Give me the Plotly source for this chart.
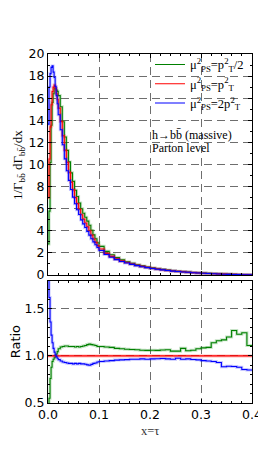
import numpy as np
import plotly.graph_objects as go

# ---- data ----
bin_edges = np.concatenate([
    np.linspace(0.0, 0.02, 11)[:-1],
    np.linspace(0.02, 0.1, 21)[:-1],
    np.linspace(0.1, 0.4, 31),
])

# reference scale mu^2 = pT^2 (red)
red_vals = [7.0, 10.5, 13.4, 15.4, 16.6, 17.0, 17.2, 16.9, 16.4, 15.9,
            15.1, 13.9, 12.6, 11.3, 10.2, 9.3, 8.4, 7.7, 7.0, 6.45,
            5.95, 5.45, 5.05, 4.7, 4.35, 4.0, 3.6, 3.25, 2.95, 2.65,
            2.35, 1.95, 1.68, 1.45, 1.27, 1.12, 0.99, 0.87, 0.77, 0.68,
            0.60, 0.53, 0.47, 0.41, 0.36, 0.32, 0.28, 0.245, 0.21, 0.18,
            0.155, 0.13, 0.11, 0.09, 0.073, 0.058, 0.045, 0.034, 0.024, 0.015]

# ratio mu^2 = pT^2/2 over reference (green)
green_ratio = [0.40, 0.55, 0.76, 0.88, 0.94, 0.965, 0.98, 1.0, 1.02, 1.045,
               1.075, 1.095, 1.10, 1.105, 1.105, 1.10, 1.10, 1.10, 1.095, 1.10,
               1.095, 1.10, 1.105, 1.11, 1.12, 1.125, 1.12, 1.115, 1.11, 1.10,
               1.10, 1.095, 1.09, 1.08, 1.075, 1.07, 1.068, 1.065, 1.06, 1.058,
               1.06, 1.058, 1.062, 1.065, 1.05, 1.05, 1.08, 1.055, 1.06, 1.075,
               1.085, 1.09, 1.14, 1.16, 1.17, 1.20, 1.27, 1.23, 1.245, 1.11]

# ratio mu^2 = 2 pT^2 over reference (blue)
blue_ratio = [1.95, 1.62, 1.36, 1.22, 1.14, 1.08, 1.04, 1.01, 0.99, 0.975,
              0.96, 0.945, 0.935, 0.93, 0.925, 0.92, 0.92, 0.915, 0.92, 0.915,
              0.92, 0.915, 0.915, 0.912, 0.905, 0.90, 0.91, 0.92, 0.925, 0.935,
              0.94, 0.945, 0.95, 0.955, 0.958, 0.96, 0.965, 0.965, 0.968, 0.965,
              0.968, 0.97, 0.972, 0.968, 0.965, 0.975, 0.965, 0.968, 0.962, 0.958,
              0.95, 0.945, 0.94, 0.93, 0.885, 0.89, 0.888, 0.88, 0.855, 0.85]

red_ratio = [1.0] * len(red_vals)
green_vals = [r * g for r, g in zip(red_vals, green_ratio)]
blue_vals = [r * b for r, b in zip(red_vals, blue_ratio)]

x_ticks = [0.0, 0.1, 0.2, 0.3, 0.4]
y_ticks_top = [0, 2, 4, 6, 8, 10, 12, 14, 16, 18, 20]
y_ticks_ratio = [0.5, 1.0, 1.5]

series = [
    ("μ<sup>2</sup><sub>PS</sub>=p<sup>2</sup><sub>T</sub>/2", green_vals, green_ratio, "#008000", "rgba(0,128,0,0.22)"),
    ("μ<sup>2</sup><sub>PS</sub>=p<sup>2</sup><sub>T</sub>", red_vals, red_ratio, "#ff0000", "rgba(255,0,0,0.28)"),
    ("μ<sup>2</sup><sub>PS</sub>=2p<sup>2</sup><sub>T</sub>", blue_vals, blue_ratio, "#0000ff", "rgba(0,0,255,0.22)"),
]

def step(vals):
    return list(bin_edges), list(vals) + [vals[-1]]

fig = go.Figure()
for name, vals, ratio, col, halo in series:
    xs, ys = step(vals)
    fig.add_trace(go.Scatter(x=xs, y=ys, mode="lines", line=dict(color=halo, width=3, shape="hv"),
                             xaxis="x2", yaxis="y2", showlegend=False, hoverinfo="skip"))
    fig.add_trace(go.Scatter(x=xs, y=ys, mode="lines", line=dict(color=col, width=1.1, shape="hv"),
                             xaxis="x2", yaxis="y2", name=name))
    xr, yr = step(ratio)
    fig.add_trace(go.Scatter(x=xr, y=yr, mode="lines", line=dict(color=halo, width=3, shape="hv"),
                             xaxis="x", yaxis="y", showlegend=False, hoverinfo="skip"))
    fig.add_trace(go.Scatter(x=xr, y=yr, mode="lines", line=dict(color=col, width=1.1, shape="hv"),
                             xaxis="x", yaxis="y", showlegend=False))

tickfont = dict(family="DejaVu Sans", size=12.5, color="black")
grid = dict(showgrid=True, gridcolor="#6e6e6e", gridwidth=1, griddash="8px,5px")
axis_common = dict(showline=True, linecolor="black", linewidth=1, mirror="allticks",
                   ticks="inside", ticklen=4, tickcolor="black", zeroline=False,
                   tickfont=tickfont, layer="above traces", **grid)

fig.update_layout(
    width=266, height=465,
    margin=dict(l=40, r=13, t=46, b=70),
    paper_bgcolor="white", plot_bgcolor="white",
    xaxis=dict(domain=[0, 1], range=[0, 0.4], tickvals=x_ticks, tickformat=".1f", anchor="y",
               minor=dict(ticks="inside", dtick=0.02, ticklen=2, tickcolor="black", showgrid=False),
               **axis_common),
    yaxis=dict(domain=[0, 0.351], range=[0.5, 1.8], tickvals=y_ticks_ratio, tickformat=".1f", anchor="x",
               minor=dict(ticks="inside", dtick=0.1, ticklen=2, tickcolor="black", showgrid=False),
               **axis_common),
    xaxis2=dict(domain=[0, 1], range=[0, 0.4], tickvals=x_ticks, showticklabels=False, anchor="y2",
                matches="x",
                minor=dict(ticks="inside", dtick=0.02, ticklen=2, tickcolor="black", showgrid=False),
                **axis_common),
    yaxis2=dict(domain=[0.367, 1], range=[0, 20], tickvals=y_ticks_top, anchor="x2",
                minor=dict(ticks="inside", dtick=1, ticklen=2, tickcolor="black", showgrid=False),
                **axis_common),
    legend=dict(x=0.50, y=1.012, xanchor="left", yanchor="top", bgcolor="rgba(0,0,0,0)",
                font=dict(family="Liberation Serif", size=12.5, color="black"),
                tracegroupgap=0),
    showlegend=True,
)

fig.add_annotation(text="1/Γ<sub>bb̄</sub> dΓ<sub>bb̄</sub>/dx", xref="paper", yref="paper",
                   x=-0.145, y=0.683, xanchor="center", yanchor="middle", textangle=-90, showarrow=False,
                   font=dict(family="Liberation Serif", size=13, color="black"))
fig.add_annotation(text="Ratio", xref="paper", yref="paper",
                   x=-0.155, y=0.175, xanchor="center", yanchor="middle", textangle=-90, showarrow=False,
                   font=dict(family="DejaVu Sans", size=13, color="black"))
fig.add_annotation(text="x=τ", xref="paper", yref="paper",
                   x=0.498, y=-0.079, xanchor="center", yanchor="middle", showarrow=False,
                   font=dict(family="Liberation Serif", size=12.5, color="#333"))
fig.add_annotation(text="h→bb̄ (massive)", xref="paper", yref="paper",
                   x=0.498, y=0.768, xanchor="left", yanchor="middle", showarrow=False,
                   font=dict(family="Liberation Serif", size=12, color="black"))
fig.add_annotation(text="Parton level", xref="paper", yref="paper",
                   x=0.498, y=0.732, xanchor="left", yanchor="middle", showarrow=False,
                   font=dict(family="Liberation Serif", size=12, color="black"))

fig.write_html("out.html")
